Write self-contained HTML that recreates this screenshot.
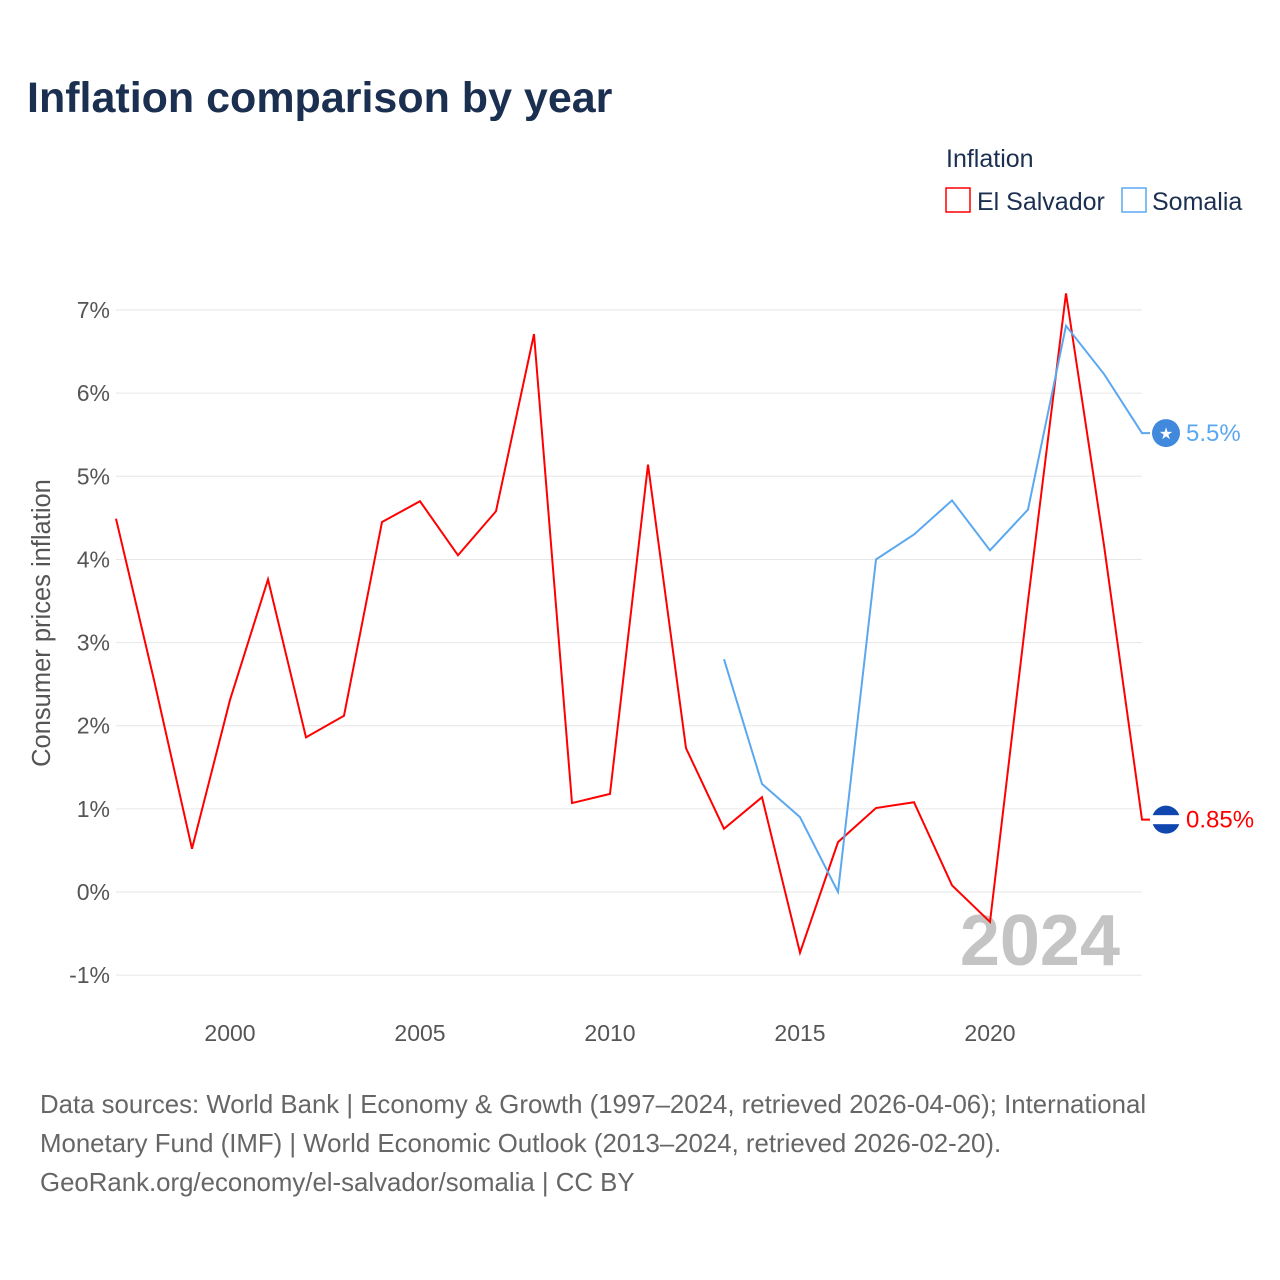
<!DOCTYPE html>
<html><head><meta charset="utf-8"><style>
body{margin:0;background:#fff;font-family:"Liberation Sans",sans-serif;}
svg{display:block}
</style></head><body>
<svg width="1280" height="1280" viewBox="0 0 1280 1280" xmlns="http://www.w3.org/2000/svg">
<text x="27" y="112" font-size="43" font-weight="bold" fill="#1b2f50">Inflation comparison by year</text>
<text x="946" y="167" font-size="25" fill="#1b2f50">Inflation</text>
<g><rect x="946" y="188" width="24" height="24" fill="none" stroke="#ff0000" stroke-width="1.5"/><text x="977" y="210" font-size="25" fill="#1b2f50">El Salvador</text></g>
<g><rect x="1122" y="188" width="24" height="24" fill="none" stroke="#5ba8f0" stroke-width="1.5"/><text x="1152" y="210" font-size="25" fill="#1b2f50">Somalia</text></g>
<g id="grid"></g><g id="yt"></g><g id="xt"></g>
<text transform="translate(50,623) rotate(-90)" text-anchor="middle" font-size="25.5" fill="#555">Consumer prices inflation</text>
<text x="1120" y="965" text-anchor="end" font-size="72" font-weight="bold" fill="#c4c4c4">2024</text>
<g id="series"></g>
<text x="40" y="1113" font-size="25.8" fill="#666">Data sources: World Bank | Economy &amp; Growth (1997–2024, retrieved 2026-04-06); International</text>
<text x="40" y="1152" font-size="25.8" fill="#666">Monetary Fund (IMF) | World Economic Outlook (2013–2024, retrieved 2026-02-20).</text>
<text x="40" y="1191" font-size="25.8" fill="#666">GeoRank.org/economy/el-salvador/somalia | CC BY</text>
</svg>
<script>
const years=[1997,1998,1999,2000,2001,2002,2003,2004,2005,2006,2007,2008,2009,2010,2011,2012,2013,2014,2015,2016,2017,2018,2019,2020,2021,2022,2023,2024];
const elSalvador=[4.49,2.55,0.52,2.31,3.76,1.86,2.12,4.45,4.70,4.05,4.58,6.71,1.07,1.18,5.14,1.73,0.76,1.14,-0.73,0.60,1.01,1.08,0.08,-0.36,3.5,7.20,4.17,0.87];
const somaliaYears=[2013,2014,2015,2016,2017,2018,2019,2020,2021,2022,2023,2024];
const somalia=[2.80,1.30,0.90,0.0,4.0,4.3,4.71,4.11,4.6,6.81,6.23,5.52];
const yTicks=[-1,0,1,2,3,4,5,6,7];
const xTicks=[2000,2005,2010,2015,2020];
const labels=["0.85%","5.5%"];
const NS="http://www.w3.org/2000/svg";
const X=y=>116+(y-1997)*(1142-116)/27;
const Y=v=>892-v*83.14;
function mk(t,a,p){const e=document.createElementNS(NS,t);for(const k in a)e.setAttribute(k,a[k]);p.appendChild(e);return e;}
const grid=document.getElementById('grid'),yt=document.getElementById('yt'),xt=document.getElementById('xt'),ser=document.getElementById('series');
yTicks.forEach(v=>{
 const l=mk('line',{x1:116,x2:1142,y1:Y(v),y2:Y(v),stroke:'#e6e6e6','stroke-width':1},grid);
 
 
 const t=mk('text',{x:110,y:Y(v)+8,'text-anchor':'end','font-size':23,fill:'#555'},yt);
 t.textContent=v+'%';
 
 
});
xTicks.forEach(y=>{
 const t=mk('text',{x:X(y),y:1041,'text-anchor':'middle','font-size':23,fill:'#555'},xt);
 t.textContent=y;
 
 
});
function series(xs,vs,col,name,lab){
 const p=mk('polyline',{points:xs.map((y,i)=>X(y)+','+Y(vs[i])).join(' ')+' '+(X(xs[xs.length-1])+8)+','+Y(vs[vs.length-1]),fill:'none',stroke:col,'stroke-width':2},ser);
 
 
 const cy=Y(vs[vs.length-1]);
 const c=mk('circle',{cx:1166,cy:cy,r:14,fill:col==='#ff0000'?'#0f47af':'#4189dd'},ser);
 
 
 if(col==='#ff0000'){const r=mk('rect',{x:1152,y:cy-4.5,width:28,height:9,fill:'#fff'},ser);}
 else{const s=mk('text',{x:1166,y:cy+6,'text-anchor':'middle','font-size':16,fill:'#fff'},ser);s.textContent='★';}
 const t=mk('text',{x:1186,y:cy+8,'font-size':24,fill:col},ser);
 t.textContent=lab;
 
 
}
series(years,elSalvador,'#ff0000','el-salvador',labels[0]);
series(somaliaYears,somalia,'#5ba8f0','somalia',labels[1]);
</script>
</body></html>
